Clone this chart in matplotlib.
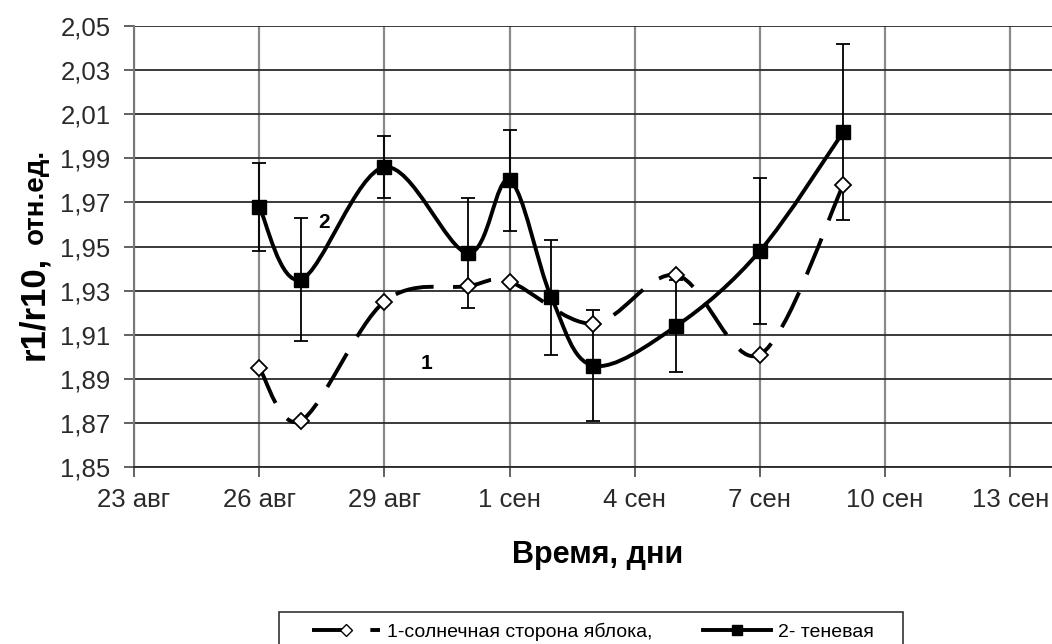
import matplotlib
matplotlib.use("Agg")
import matplotlib.pyplot as plt
import matplotlib.dates as mdates
from matplotlib.path import Path
from matplotlib.patches import PathPatch, Rectangle
from datetime import date

plt.rcParams["font.family"] = ["Liberation Sans", "DejaVu Sans"]

# --- данные ---
dates1 = ["2010-08-26", "2010-08-27", "2010-08-29", "2010-08-31", "2010-09-01",
          "2010-09-03", "2010-09-05", "2010-09-07", "2010-09-09"]
vals1 = [1.895, 1.871, 1.925, 1.932, 1.934, 1.915, 1.937, 1.901, 1.978]

dates2 = ["2010-08-26", "2010-08-27", "2010-08-29", "2010-08-31", "2010-09-01",
          "2010-09-02", "2010-09-03", "2010-09-05", "2010-09-07", "2010-09-09"]
vals2 = [1.968, 1.935, 1.986, 1.947, 1.980, 1.927, 1.896, 1.914, 1.948, 2.002]
err2 = [0.020, 0.028, 0.014, 0.025, 0.023, 0.026, 0.025, 0.021, 0.033, 0.040]

tick_dates = ["2010-08-23", "2010-08-26", "2010-08-29", "2010-09-01",
              "2010-09-04", "2010-09-07", "2010-09-10", "2010-09-13"]
tick_labels = ["23 авг", "26 авг", "29 авг", "1 сен", "4 сен", "7 сен",
               "10 сен", "13 сен"]
y_ticks = [1.85, 1.87, 1.89, 1.91, 1.93, 1.95, 1.97, 1.99, 2.01, 2.03, 2.05]

label1 = "1-солнечная сторона яблока,"
label2 = "2- теневая"

W, H = 1052, 644


def to_num(ds):
    return [mdates.date2num(date.fromisoformat(d)) for d in ds]


def smooth_path(xs, ys):
    # сглаженная линия как в Excel: кубические кривые Безье (Catmull-Rom)
    n = len(xs)
    verts = [(xs[0], ys[0])]
    codes = [Path.MOVETO]
    for i in range(n - 1):
        x0, y0 = (xs[i - 1], ys[i - 1]) if i > 0 else (xs[i], ys[i])
        x3, y3 = (xs[i + 2], ys[i + 2]) if i + 2 < n else (xs[i + 1], ys[i + 1])
        c1 = (xs[i] + (xs[i + 1] - x0) / 6, ys[i] + (ys[i + 1] - y0) / 6)
        c2 = (xs[i + 1] - (x3 - xs[i]) / 6, ys[i + 1] - (y3 - ys[i]) / 6)
        verts += [c1, c2, (xs[i + 1], ys[i + 1])]
        codes += [Path.CURVE4] * 3
    return Path(verts, codes)


x1 = to_num(dates1)
x2 = to_num(dates2)

fig = plt.figure(figsize=(W / 100, H / 100), dpi=100)
ax = fig.add_axes([134 / W, 1 - 467 / H, 1 - 134 / W, (467 - 26) / H])

LW = 2.8
dash = (0, (10, 5))
ax.add_patch(PathPatch(smooth_path(x1, vals1), fill=False, edgecolor="black",
                       lw=LW, linestyle=dash, zorder=3))
ax.add_patch(PathPatch(smooth_path(x2, vals2), fill=False, edgecolor="black",
                       lw=LW, zorder=3))

ax.errorbar(x2, vals2, yerr=err2, fmt="none", ecolor="black", elinewidth=1.3,
            capsize=4.7, capthick=1.3, zorder=4)
ax.plot(x1, vals1, linestyle="none", marker="D", markersize=8.5,
        markerfacecolor="white", markeredgecolor="black", markeredgewidth=1.3,
        zorder=5)
ax.plot(x2, vals2, linestyle="none", marker="s", markersize=10,
        color="black", zorder=5)

ax.text(mdates.date2num(date(2010, 8, 30)), 1.897, "1", fontsize=15,
        fontweight="bold", ha="center", va="center", zorder=6)
ax.text(mdates.date2num(date(2010, 8, 27)) + 0.55, 1.961, "2", fontsize=15,
        fontweight="bold", ha="center", va="center", zorder=6,
        bbox=dict(facecolor="white", edgecolor="none", pad=1))

ax.set_xlim(mdates.date2num(date(2010, 8, 23)), mdates.date2num(date(2010, 9, 14)))
ax.set_ylim(1.85, 2.05)
ax.set_xticks(to_num(tick_dates))
ax.set_xticklabels(tick_labels)
ax.set_yticks(y_ticks)
ax.set_yticklabels([f"{v:.2f}".replace(".", ",") for v in y_ticks])

ax.grid(axis="y", color="#2a2a2a", lw=1.3)
ax.grid(axis="x", color="#8a8a8a", lw=1.6)
ax.set_axisbelow(True)
for s in ("top", "right"):
    ax.spines[s].set_visible(False)
ax.spines["left"].set_color("#777777")
ax.spines["left"].set_linewidth(1.5)
ax.spines["bottom"].set_color("#2a2a2a")
ax.spines["bottom"].set_linewidth(1.3)
ax.tick_params(axis="both", direction="out", length=7, width=1.3,
               color="#555555", labelsize=18.5, labelcolor="#2a2a2a")
ax.tick_params(axis="x", pad=8)
ax.tick_params(axis="y", pad=10)

# подпись оси Y: две части разного размера на общей базовой линии
ax.text(-91 / 918, (467 - 308) / 441, "r1/r10,", transform=ax.transAxes,
        rotation=90, rotation_mode="anchor", fontsize=25, fontweight="bold",
        ha="center", va="baseline")
ax.text(-91 / 918, (467 - 196) / 441, "отн.ед.", transform=ax.transAxes,
        rotation=90, rotation_mode="anchor", fontsize=20, fontweight="bold",
        ha="center", va="baseline")
fig.text(598 / W, 1 - 563 / H, "Время, дни", fontsize=22, fontweight="bold",
         ha="center", va="baseline")

# рамка легенды (нижний край обрезан краем рисунка)
fig.patches.append(Rectangle((279 / W, -0.05), (903 - 279) / W, 0.05 + 1 - 612 / H,
                             transform=fig.transFigure, fill=False,
                             edgecolor="#333333", lw=1.2))
h1, = ax.plot([], [], color="black", lw=LW, linestyle=dash, marker="D",
              markersize=6, markerfacecolor="white", markeredgecolor="black")
h2, = ax.plot([], [], color="black", lw=LW, marker="s", markersize=7)
fig.legend([h1, h2], [label1, label2], loc="center left",
           bbox_to_anchor=(312 / W, 1 - 632 / H), ncol=2, frameon=False,
           fontsize=14, handlelength=3.5, handletextpad=0.35,
           columnspacing=2.6, borderpad=0, borderaxespad=0)

fig.savefig("out.png", dpi=100)
